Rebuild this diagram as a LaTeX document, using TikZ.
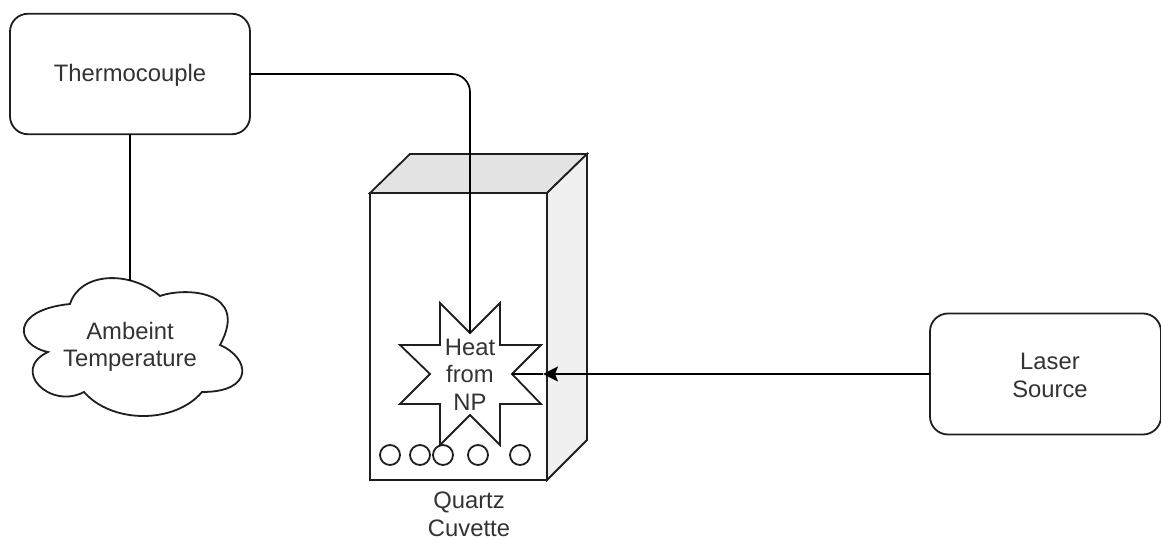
\documentclass[tikz,border=0pt]{standalone}
\usepackage{fontspec}
\setmainfont{Liberation Sans}
\usetikzlibrary{arrows.meta}
\tikzset{
  ink/.style={draw=black!88,line width=1.8pt,line join=miter},
  lab/.style={text=black!80,font=\fontsize{23.8}{27.5}\selectfont,align=center,inner sep=0pt,outer sep=0pt},
  roundbox/.style={ink,rectangle,rounded corners=18pt,inner sep=0pt,outer sep=0pt,fill=white},
  bead/.style={ink,circle,minimum size=20pt,inner sep=0pt,outer sep=0pt},
  wire/.style={draw=black,line width=1.7pt},
}
\begin{document}
\begin{tikzpicture}[x=1pt,y=-1pt]
\useasboundingbox[fill=white] (0,0) rectangle (1161,540);
% cuvette
\coordinate (ftl) at (370,193);
\coordinate (ftr) at (547,193);
\coordinate (fbr) at (547,480);
\coordinate (fbl) at (370,480);
\coordinate (btl) at (410,154);
\coordinate (btr) at (587,154);
\coordinate (bbr) at (587,440);
\path[ink,fill=white] (ftl) -- (ftr) -- (fbr) -- (fbl) -- cycle;
\path[ink,fill=black!11] (ftl) -- (btl) -- (btr) -- (ftr) -- cycle;
\path[ink,fill=black!6] (ftr) -- (btr) -- (bbr) -- (fbr) -- cycle;
\node[lab] (cuvlabel) at (469,514.5) {Quartz\\Cuvette};
% star
\path[ink,fill=white] (440,303) -- (470,333) coordinate (startop) -- (500,303) -- (500,345) -- (541,345) -- (512,374) coordinate (starright) -- (541,404) -- (500,404) -- (500,445) -- (470,415) -- (440,445) -- (440,404) -- (400,404) -- (430,374) -- (400,345) -- (440,345) -- cycle;
\node[lab] (heat) at (470,374.5) {Heat\\from\\NP};
% beads
\node[bead] (b1) at (390,455) {};
\node[bead] (b2) at (420,455) {};
\node[bead] (b3) at (443,455) {};
\node[bead] (b4) at (478,455) {};
\node[bead] (b5) at (520,455) {};
% boxes
\node[roundbox,minimum width=240pt,minimum height=120.5pt] (thermo) at (130,74) {};
\node[lab] (thermolabel) at (130,75) {Thermocouple};
\node[roundbox,minimum width=231pt,minimum height=121pt,anchor=west] (laser) at (930,374) {};
\node[lab] (laserlabel) at (1050,375.5) {Laser\\Source};
% cloud
\path[ink,fill=white] (48,352)
  .. controls (15,345) and (10,310) .. (70,304)
  .. controls (80,272) and (130,270) .. (160,296)
  .. controls (185,287) and (250,290) .. (220,345)
  .. controls (250,358) and (255,392) .. (202,392)
  .. controls (175,424) and (112,424) .. (84,392)
  .. controls (50,410) and (10,370) .. cycle;
\coordinate (cloudtop) at (130,281);
\node[lab] (cloud) at (130,347) {Ambeint\\Temperature};
% connectors
\draw[wire] (thermo.south) -- (cloudtop);
\draw[wire,rounded corners=18pt] (thermo.east) -- (470,74) -- (startop);
\coordinate (tip) at (543,374);
\draw[wire,-{Stealth[length=15pt,width=15pt,inset=3pt]}] (laser.west) -- (tip);
\draw[wire] (tip) -- (starright);
\end{tikzpicture}
\end{document}
